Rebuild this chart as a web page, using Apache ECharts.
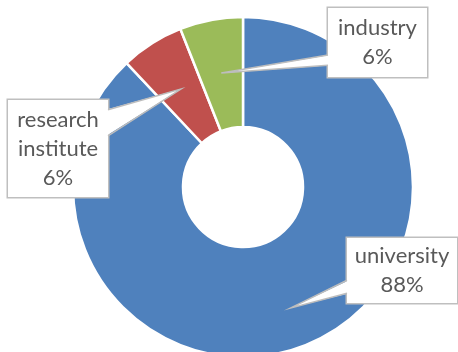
<!DOCTYPE html>
<html>
<head>
<meta charset="utf-8">
<script src="https://cdn.jsdelivr.net/npm/echarts@6/dist/echarts.min.js"></script>
<style>
  html, body { margin: 0; padding: 0; background: #fff; }
  #chart { width: 458px; height: 352px; }
</style>
</head>
<body>
<div id="chart"></div>
<script>
// data, clockwise from 12 o'clock
const categories = ['university', 'research institute', 'industry'];
const shares = [88, 6, 6];
const colors = ['#4F81BD', '#C0504D', '#9BBB59'];

// pie geometry
const center = [243, 187];
const radius = [60, 170];

// callout boxes (outer box), where the pointer meets the box (fraction of height), pointer tip radius
const boxes = [
  { x: 347, y: 238, w: 110, h: 65, side: 'left', b0: 0.65, b1: 0.85, tipR: 130 },
  { x: 8, y: 100, w: 100, h: 97, side: 'right', b0: 0.1, b1: 0.37, tipR: 116 },
  { x: 328, y: 8, w: 99, h: 69, side: 'left', b0: 0.68, b1: 0.83, tipR: 116 }
];
const padH = 6, padV = 4;

const total = shares.reduce((a, b) => a + b, 0);
const midAngles = [];
let acc = 0;
shares.forEach(v => {
  midAngles.push((90 - 360 * (acc + v / 2) / total) * Math.PI / 180);
  acc += v;
});

// callout pointers: tip inside the slice, base opening into the box
const pointers = [];
boxes.forEach((b, i) => {
  const tip = [center[0] + b.tipR * Math.cos(midAngles[i]), center[1] - b.tipR * Math.sin(midAngles[i])];
  const ex = b.side === 'left' ? b.x : b.x + b.w;
  const inX = b.side === 'left' ? ex + 2 : ex - 2;
  const y0 = b.y + b.h * b.b0, y1 = b.y + b.h * b.b1;
  pointers.push({
    type: 'polygon',
    z: 100,
    silent: true,
    shape: { points: [[inX, y0], tip, [inX, y1]] },
    style: { fill: '#fff' }
  });
  pointers.push({
    type: 'polyline',
    z: 101,
    silent: true,
    shape: { points: [[ex, y0], tip, [ex, y1]] },
    style: { stroke: '#bdbdbd', lineWidth: 1.5, fill: null }
  });
});

const chart = echarts.init(document.getElementById('chart'));

const option = {
  animation: false,
  color: colors,
  graphic: pointers,
  series: [
    {
      type: 'pie',
      center: center,
      radius: radius,
      startAngle: 90,
      clockwise: true,
      avoidLabelOverlap: false,
      percentPrecision: 0,
      itemStyle: {
        borderColor: '#fff',
        borderWidth: 2.5
      },
      label: {
        show: true,
        position: 'outside',
        formatter: p => p.name.replace(' ', '\n') + '\n' + p.percent + '%',
        fontFamily: 'Lato',
        fontSize: 22,
        lineHeight: 29,
        color: '#595959',
        align: 'center',
        backgroundColor: '#fff',
        borderColor: '#bfbfbf',
        borderWidth: 1.5,
        padding: [padV, padH]
      },
      labelLine: { show: false },
      labelLayout: function (params) {
        const b = boxes[params.dataIndex];
        return {
          x: b.x + b.w / 2,
          y: b.y + b.h / 2,
          align: 'center',
          verticalAlign: 'middle'
        };
      },
      data: categories.map((name, i) => ({
        name: name,
        value: shares[i],
        label: { width: boxes[i].w - 2 * padH, height: boxes[i].h - 2 * padV }
      }))
    }
  ]
};

chart.setOption(option);
</script>
</body>
</html>
